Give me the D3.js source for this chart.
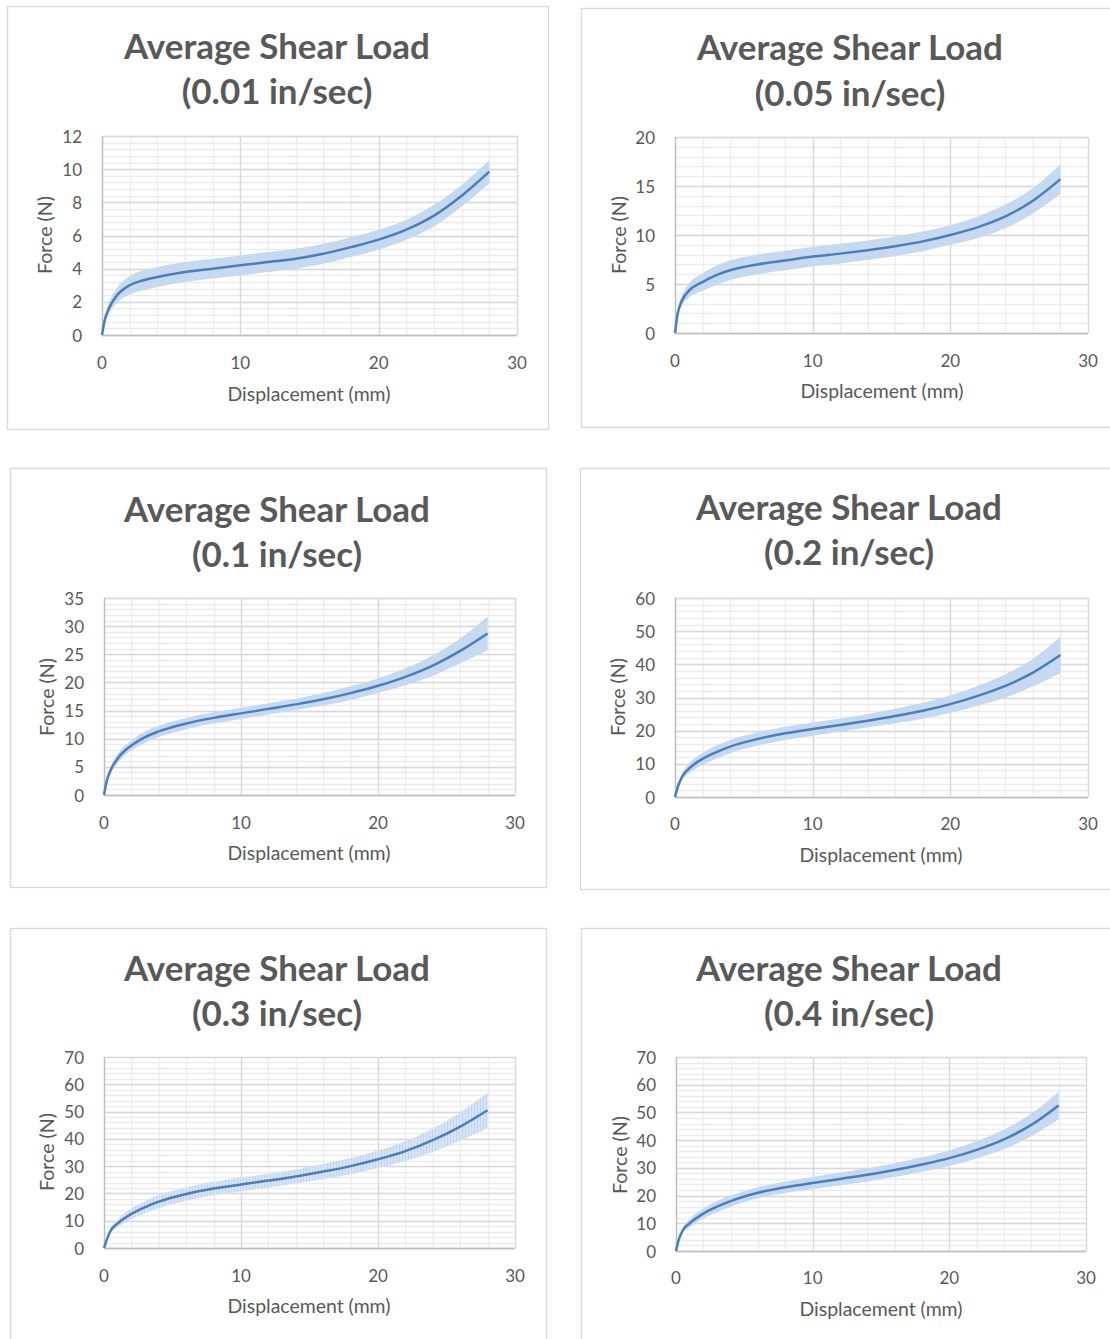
<!DOCTYPE html>
<html><head><meta charset="utf-8">
<script src="https://cdn.jsdelivr.net/npm/d3@7"></script>
<style>body{margin:0;background:#fff}svg{display:block}text{font-family:Lato,"Open Sans",sans-serif;fill:#595959}</style>
</head><body>
<svg id="c" width="1110" height="1339"></svg>
<script>
// ---- data ----
const speeds = ["(0.01 in/sec)", "(0.05 in/sec)", "(0.1 in/sec)", "(0.2 in/sec)", "(0.3 in/sec)", "(0.4 in/sec)"];
const yMaxes = [12, 20, 35, 60, 70, 70];
const ySteps = [2, 5, 5, 10, 10, 10];
const xTicks = [0, 10, 20, 30];
const disp = [0, 0.2, 0.5, 1, 2, 3, 4, 6, 8, 10, 12, 14, 16, 18, 20, 22, 24, 26, 28];
const mean001 = [0, 0.9, 1.6, 2.3, 3.0, 3.3, 3.5, 3.8, 4.0, 4.2, 4.4, 4.6, 4.9, 5.3, 5.75, 6.35, 7.2, 8.4, 9.85];
const sd001   = [0, 0.2, 0.35, 0.45, 0.55, 0.6, 0.6, 0.6, 0.6, 0.6, 0.6, 0.6, 0.6, 0.6, 0.6, 0.6, 0.65, 0.65, 0.7];
const mean005 = [0, 2.0, 3.3, 4.3, 5.2, 5.9, 6.4, 7.0, 7.4, 7.8, 8.1, 8.45, 8.85, 9.35, 10.0, 10.8, 11.9, 13.5, 15.7];
const sd005   = [0, 0.3, 0.5, 0.7, 0.9, 1.0, 1.0, 1.0, 1.0, 1.0, 1.0, 1.0, 1.0, 1.0, 1.0, 1.1, 1.2, 1.3, 1.5];
const mean01  = [0, 2.5, 4.5, 6.5, 8.8, 10.3, 11.3, 12.7, 13.7, 14.5, 15.3, 16.1, 17.0, 18.1, 19.4, 21.0, 23.0, 25.6, 28.7];
const sd01    = [0, 0.4, 0.6, 0.8, 0.9, 1.0, 1.0, 1.0, 1.0, 1.0, 1.0, 1.0, 1.1, 1.2, 1.3, 1.5, 1.8, 2.2, 3.0];
const mean02  = [0, 3.0, 6.0, 8.5, 11.5, 13.5, 15.2, 17.5, 19.2, 20.5, 21.7, 23.0, 24.4, 26.0, 28.0, 30.5, 33.5, 37.5, 42.8];
const sd02    = [0, 0.5, 1.0, 1.5, 1.8, 2.0, 2.0, 2.0, 2.0, 2.0, 2.0, 2.0, 2.2, 2.4, 2.6, 3.0, 3.5, 4.2, 5.5];
const mean03  = [0, 3.0, 6.5, 9.0, 12.5, 15.0, 17.0, 19.8, 21.8, 23.3, 24.7, 26.2, 28.0, 30.0, 32.5, 35.5, 39.5, 44.5, 50.5];
const sd03    = [0, 0.5, 1.0, 1.5, 2.0, 2.2, 2.4, 2.5, 2.5, 2.5, 2.5, 2.6, 2.8, 3.0, 3.2, 3.6, 4.3, 5.2, 6.5];
const mean04  = [0, 4.0, 7.5, 10.0, 13.5, 16.0, 18.0, 21.0, 23.0, 24.5, 26.0, 27.5, 29.2, 31.2, 33.5, 36.5, 40.3, 45.5, 52.5];
const sd04    = [0, 0.5, 1.0, 1.5, 1.8, 2.0, 2.0, 2.0, 2.1, 2.2, 2.3, 2.4, 2.5, 2.6, 2.8, 3.1, 3.5, 4.1, 5.0];
const means = [mean001, mean005, mean01, mean02, mean03, mean04];
const sds = [sd001, sd005, sd01, sd02, sd03, sd04];
const titleMain = "Average Shear Load";
const xLabel = "Displacement (mm)";
const yLabel = "Force (N)";

// ---- layout ----
const layout = [
  {box:[7,6,541,423],   plot:[102,136,517,335], title:[277,45,90], xt:362, xl:[309,393], yl:[44,235]},
  {box:[581,8,540,419], plot:[675,137,1088,333], title:[850,46,92], xt:360, xl:[882,390], yl:[618,235]},
  {box:[10,468,536,419], plot:[104,598,515,795], title:[277,508,553], xt:822, xl:[309,852], yl:[46,697]},
  {box:[580,468,540,421], plot:[675,598,1088,797], title:[849,506,551], xt:823, xl:[881,854], yl:[617,697]},
  {box:[10,928,536,420], plot:[104,1057,515,1248], title:[277,967,1012], xt:1275, xl:[309,1305], yl:[46,1152]},
  {box:[581,928,540,420], plot:[676,1057,1086,1251], title:[849,967,1012], xt:1277, xl:[881,1308], yl:[619,1155]}
];

const svg = d3.select("#c");
const defs = svg.append("defs");
const pat = defs.append("pattern").attr("id","stripes").attr("patternUnits","userSpaceOnUse").attr("width",3).attr("height",10);
pat.append("rect").attr("width",3).attr("height",10).attr("fill","#d8e4f4");
pat.append("rect").attr("width",1).attr("height",10).attr("fill","#c3d6ef");

function fitText(sel, target, size){
  sel.style("font-size", size+"px");
  const w = sel.node().getComputedTextLength();
  const s = size*target/w;
  sel.style("font-size", s+"px");
  return s;
}

layout.forEach((L, i) => {
  const g = svg.append("g");
  g.append("rect").attr("x",L.box[0]+0.5).attr("y",L.box[1]+0.5).attr("width",L.box[2]).attr("height",L.box[3])
    .attr("fill","#fff").attr("stroke","#d9d9d9").attr("stroke-width",1.3);
  const [x0,y0,x1,y1] = L.plot;
  const x = d3.scaleLinear().domain([0,30]).range([x0,x1]);
  const y = d3.scaleLinear().domain([0,yMaxes[i]]).range([y1,y0]);
  const minorY = d3.range(0, yMaxes[i]+1e-9, ySteps[i]/5);
  const minorX = d3.range(0, 30.0001, 2);
  const majorY = d3.range(0, yMaxes[i]+1e-9, ySteps[i]);
  g.append("g").selectAll("line").data(minorY).join("line")
    .attr("x1",x0).attr("x2",x1).attr("y1",d=>Math.round(y(d))+0.5).attr("y2",d=>Math.round(y(d))+0.5)
    .attr("stroke","#ececec").attr("stroke-width",1.5);
  g.append("g").selectAll("line").data(minorX).join("line")
    .attr("y1",y0).attr("y2",y1).attr("x1",d=>Math.round(x(d))+0.5).attr("x2",d=>Math.round(x(d))+0.5)
    .attr("stroke","#ececec").attr("stroke-width",1.5);
  g.append("g").selectAll("line").data(majorY).join("line")
    .attr("x1",x0).attr("x2",x1).attr("y1",d=>Math.round(y(d))+0.5).attr("y2",d=>Math.round(y(d))+0.5)
    .attr("stroke","#d9d9d9").attr("stroke-width",1.3);
  g.append("g").selectAll("line").data(xTicks).join("line")
    .attr("y1",y0).attr("y2",y1).attr("x1",d=>Math.round(x(d))+0.5).attr("x2",d=>Math.round(x(d))+0.5)
    .attr("stroke","#d9d9d9").attr("stroke-width",1.3);
  g.append("line").attr("x1",x0).attr("x2",x1).attr("y1",Math.round(y(0))+0.5).attr("y2",Math.round(y(0))+0.5).attr("stroke","#bfbfbf").attr("stroke-width",1.3);
  g.append("line").attr("y1",y0).attr("y2",y1).attr("x1",Math.round(x(0))+0.5).attr("x2",Math.round(x(0))+0.5).attr("stroke","#bfbfbf").attr("stroke-width",1.3);

  const pts = disp.map((d,k)=>({x:d, m:means[i][k], s:sds[i][k]}));
  const area = d3.area().x(d=>x(d.x)).y0(d=>y(Math.max(0,d.m-d.s))).y1(d=>y(d.m+d.s)).curve(d3.curveMonotoneX);
  g.append("path").datum(pts).attr("d",area).attr("fill", i===4 ? "url(#stripes)" : "#c5d9f1");
  const line = d3.line().x(d=>x(d.x)).y(d=>y(d.m)).curve(d3.curveMonotoneX);
  g.append("path").datum(pts).attr("d",line).attr("fill","none").attr("stroke","#4a7ebb").attr("stroke-width",2.5);

  g.append("g").selectAll("text").data(majorY).join("text")
    .attr("x",x0-20).attr("y",d=>y(d)).attr("text-anchor","end").attr("dominant-baseline","central")
    .style("font-size","17px").text(d=>d);
  g.append("g").selectAll("text").data(xTicks).join("text")
    .attr("x",d=>x(d)).attr("y",L.xt).attr("text-anchor","middle").attr("dominant-baseline","central")
    .style("font-size","17px").text(d=>d);
  const xt = g.append("text").attr("x",L.xl[0]).attr("y",L.xl[1]).attr("text-anchor","middle").attr("dominant-baseline","central").text(xLabel);
  fitText(xt,163,16);
  const yt = g.append("text").attr("transform",`translate(${L.yl[0]},${L.yl[1]}) rotate(-90)`).attr("text-anchor","middle").attr("dominant-baseline","central").text(yLabel);
  fitText(yt,78,16);
  const t1 = g.append("text").attr("x",L.title[0]).attr("y",L.title[1]).attr("text-anchor","middle").attr("dominant-baseline","central")
    .style("font-weight","bold").text(titleMain);
  const s = fitText(t1,306,30);
  g.append("text").attr("x",L.title[0]).attr("y",L.title[2]).attr("text-anchor","middle").attr("dominant-baseline","central")
    .style("font-weight","bold").style("font-size",s+"px").text(speeds[i]);
});
</script>
</body></html>
